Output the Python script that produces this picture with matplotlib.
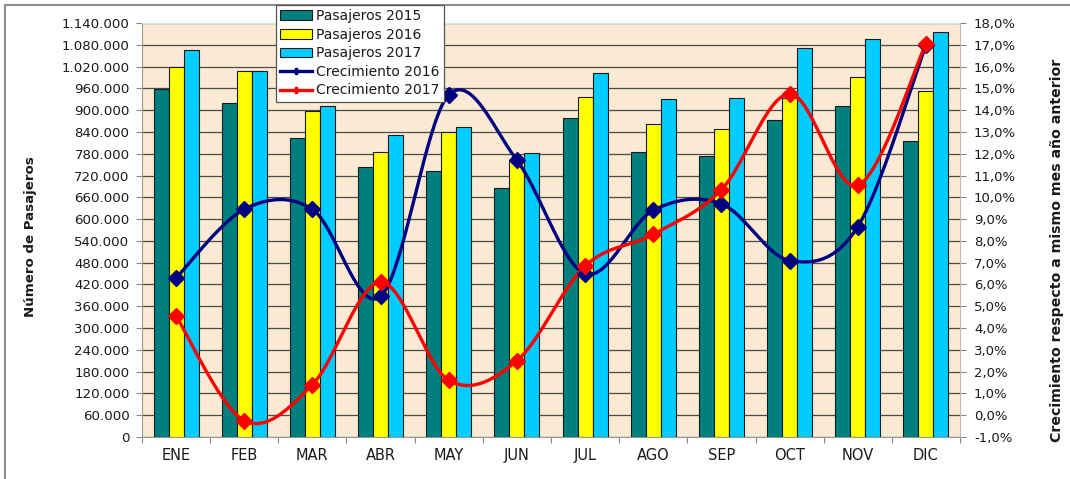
import numpy as np
import matplotlib
matplotlib.use("Agg")
import matplotlib.pyplot as plt
from matplotlib.patches import Patch
from matplotlib.lines import Line2D
from matplotlib.ticker import FuncFormatter, MultipleLocator, FixedLocator, NullFormatter

plt.rcParams['font.family'] = ['DejaVu Sans']

# Monthly passengers and year-on-year growth
months = ["ENE", "FEB", "MAR", "ABR", "MAY", "JUN", "JUL", "AGO", "SEP", "OCT", "NOV", "DIC"]
pasajeros_2015 = [958000, 920500, 822400, 744300, 732500, 684700, 879300, 784800, 773800, 872900, 911400, 815100]
pasajeros_2016 = [1018000, 1008700, 898500, 785600, 839900, 763000, 937100, 860900, 847200, 933500, 990400, 953700]
pasajeros_2017 = [1065000, 1007800, 911400, 831600, 852700, 783000, 1001400, 930700, 934400, 1072000, 1095900, 1114300]
crecimiento_2016 = [6.3, 9.45, 9.45, 5.45, 14.7, 11.7, 6.5, 9.4, 9.7, 7.1, 8.65, 17.0]
crecimiento_2017 = [4.55, -0.25, 1.4, 6.1, 1.6, 2.5, 6.85, 8.3, 10.35, 14.75, 10.55, 17.05]

C_2015 = "#007F7F"
C_2016 = "#FFFF00"
C_2017 = "#00CCFF"
C_G16 = "#000080"
C_G17 = "#FF0000"
TXT = "#1a1a1a"


def smooth(xs, ys, n=40):
    """Catmull-Rom style Bezier smoothing through the given points."""
    x = np.asarray(xs, float)
    y = np.asarray(ys, float)
    px = np.concatenate([[x[0]], x, [x[-1]]])
    py = np.concatenate([[y[0]], y, [y[-1]]])
    out_x, out_y = [], []
    t = np.linspace(0, 1, n)
    for i in range(1, len(px) - 2):
        p0 = np.array([px[i - 1], py[i - 1]])
        p1 = np.array([px[i], py[i]])
        p2 = np.array([px[i + 1], py[i + 1]])
        p3 = np.array([px[i + 2], py[i + 2]])
        c1 = p1 + (p2 - p0) / 6.0
        c2 = p2 - (p3 - p1) / 6.0
        b = ((1 - t) ** 3)[:, None] * p1 + (3 * (1 - t) ** 2 * t)[:, None] * c1 \
            + (3 * (1 - t) * t ** 2)[:, None] * c2 + (t ** 3)[:, None] * p2
        out_x.extend(b[:, 0])
        out_y.extend(b[:, 1])
    return np.array(out_x), np.array(out_y)


W, H = 1070, 479
fig = plt.figure(figsize=(W / 100, H / 100), dpi=100)
fig.patch.set_facecolor("white")

left, right, top, bottom = 142, 960, 23, 437
ax = fig.add_axes([left / W, 1 - bottom / H, (right - left) / W, (bottom - top) / H])
ax.set_facecolor("#FBEAD3")

x = np.arange(len(months))
bw = 0.22
ax.bar(x - bw, pasajeros_2015, bw, color=C_2015, edgecolor="#1a1a1a", linewidth=0.8, zorder=3)
ax.bar(x, pasajeros_2016, bw, color=C_2016, edgecolor="#1a1a1a", linewidth=0.8, zorder=3)
ax.bar(x + bw, pasajeros_2017, bw, color=C_2017, edgecolor="#1a1a1a", linewidth=0.8, zorder=3)

ax.set_xlim(-0.5, len(months) - 0.5)
ax.set_ylim(0, 1140000)
ax.yaxis.set_major_locator(MultipleLocator(60000))
ax.yaxis.set_major_formatter(FuncFormatter(lambda v, p: f"{int(round(v)):,}".replace(",", ".")))
ax.grid(axis="y", color="#4a4a4a", linewidth=0.9, zorder=1)
ax.set_axisbelow(True)

ax.xaxis.set_major_locator(FixedLocator(np.arange(-0.5, len(months), 1.0)))
ax.xaxis.set_major_formatter(NullFormatter())
ax.xaxis.set_minor_locator(FixedLocator(x))
ax.set_xticklabels(months, minor=True)
ax.tick_params(axis="x", which="minor", length=0, pad=8, labelsize=10.5, labelcolor=TXT)
ax.tick_params(axis="x", which="major", length=4, color="#888888")
ax.tick_params(axis="y", length=4, color="#888888", labelsize=9.6, labelcolor=TXT, pad=5)

ax.spines["right"].set_visible(False)
ax.spines["top"].set_color("#c6eeee")
ax.spines["left"].set_color("#999999")
ax.spines["bottom"].set_color("#999999")

ax2 = ax.twinx()
ax2.set_ylim(-1, 18)
ax2.yaxis.set_major_locator(MultipleLocator(1))
ax2.yaxis.set_major_formatter(FuncFormatter(lambda v, p: f"{v:.1f}%".replace(".", ",")))
ax2.tick_params(axis="y", length=4, color="#888888", labelsize=9.5, labelcolor=TXT, pad=6)
for s in ["top", "left", "bottom"]:
    ax2.spines[s].set_visible(False)
ax2.spines["right"].set_color("#bbbbbb")

fig.text(31 / W, 1 - 237 / H, "Número de Pasajeros", rotation=90, ha="center", va="center",
         fontsize=9.6, fontweight="bold", color=TXT)
fig.text(1057 / W, 1 - 250 / H, "Crecimiento respecto a mismo mes año anterior", rotation=90,
         ha="center", va="center", fontsize=10.2, fontweight="bold", color=TXT)

for g, c in [(crecimiento_2016, C_G16), (crecimiento_2017, C_G17)]:
    sx, sy = smooth(x, g)
    ax2.plot(sx, sy, color=c, linewidth=2.4, solid_capstyle="round", zorder=4)
    ax2.plot(x, g, linestyle="none", marker="D", markersize=8.5, color=c, zorder=5)

handles = [
    Patch(facecolor=C_2015, edgecolor="#1a1a1a", linewidth=0.8),
    Patch(facecolor=C_2016, edgecolor="#1a1a1a", linewidth=0.8),
    Patch(facecolor=C_2017, edgecolor="#1a1a1a", linewidth=0.8),
    Line2D([], [], color=C_G16, linewidth=2.4, marker="P", markersize=4),
    Line2D([], [], color=C_G17, linewidth=2.4, marker="P", markersize=4),
]
labels = ["Pasajeros 2015", "Pasajeros 2016", "Pasajeros 2017", "Crecimiento 2016", "Crecimiento 2017"]
leg = fig.legend(handles, labels, loc="upper left", bbox_to_anchor=(276 / W, 1 - 5 / H),
                 fontsize=10, frameon=True, fancybox=False, framealpha=1,
                 edgecolor="#555555", handlelength=2.3, handleheight=0.7, handletextpad=0.3,
                 labelspacing=0.33, borderpad=0.3, borderaxespad=0)
leg.get_frame().set_linewidth(0.9)
for t in leg.get_texts():
    t.set_color(TXT)

# outer chart frame
fig.add_artist(Line2D([5 / W, 5 / W], [0, 1 - 5 / H], transform=fig.transFigure, color="#8c8c8c", linewidth=1.5))
fig.add_artist(Line2D([5 / W, 1], [1 - 5 / H, 1 - 5 / H], transform=fig.transFigure, color="#8c8c8c", linewidth=1.5))

fig.savefig("out.png", dpi=100)
